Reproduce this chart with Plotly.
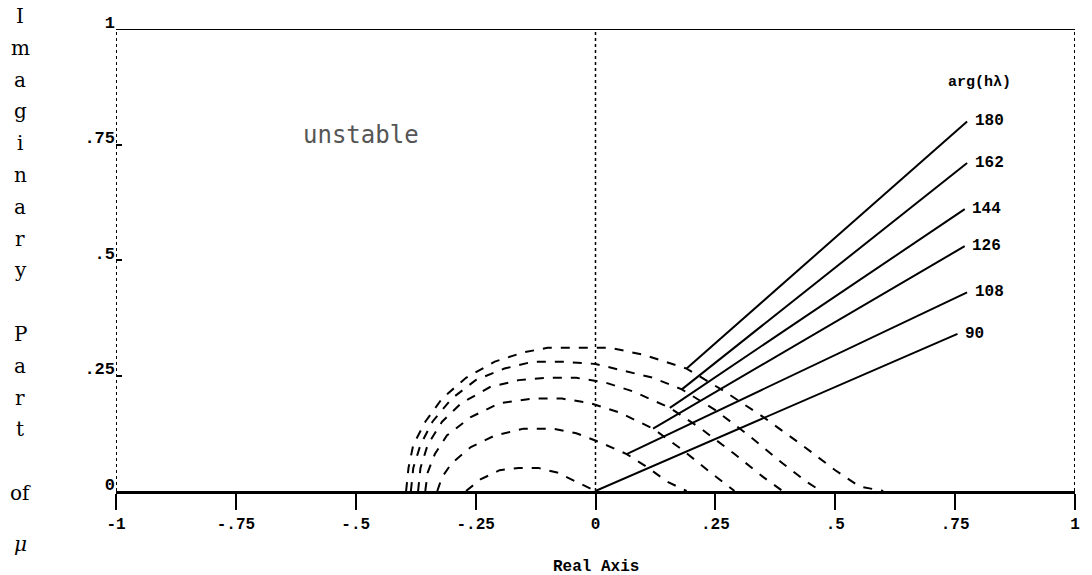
import plotly.graph_objects as go

# ---- data ----
args = [90, 108, 126, 144, 162, 180]

curve_x_90 = [-0.27, -0.24, -0.20, -0.16, -0.12, -0.08, -0.04, 0.0]
curve_y_90 = [0.0, 0.025, 0.045, 0.05, 0.05, 0.04, 0.02, 0.0]

curve_x_108 = [-0.33, -0.32, -0.30, -0.26, -0.21, -0.15, -0.09, -0.04, 0.01, 0.065, 0.11, 0.15, 0.19]
curve_y_108 = [0.0, 0.03, 0.06, 0.095, 0.12, 0.135, 0.135, 0.125, 0.105, 0.08, 0.05, 0.02, 0.0]

curve_x_126 = [-0.355, -0.35, -0.335, -0.31, -0.26, -0.20, -0.13, -0.07, -0.01, 0.05, 0.12, 0.18, 0.24, 0.29]
curve_y_126 = [0.0, 0.04, 0.08, 0.12, 0.16, 0.19, 0.20, 0.20, 0.19, 0.17, 0.135, 0.09, 0.04, 0.0]

curve_x_144 = [-0.37, -0.365, -0.35, -0.32, -0.28, -0.22, -0.16, -0.10, -0.04, 0.02, 0.08, 0.155, 0.22, 0.29, 0.35, 0.39]
curve_y_144 = [0.0, 0.05, 0.10, 0.15, 0.19, 0.225, 0.24, 0.245, 0.245, 0.235, 0.215, 0.18, 0.135, 0.08, 0.03, 0.0]

curve_x_162 = [-0.385, -0.38, -0.365, -0.34, -0.30, -0.25, -0.19, -0.13, -0.07, 0.0, 0.06, 0.12, 0.18, 0.25, 0.32, 0.39, 0.44, 0.47]
curve_y_162 = [0.0, 0.05, 0.10, 0.15, 0.20, 0.24, 0.265, 0.28, 0.28, 0.275, 0.26, 0.245, 0.22, 0.175, 0.12, 0.06, 0.02, 0.0]

curve_x_180 = [-0.395, -0.39, -0.38, -0.355, -0.32, -0.27, -0.21, -0.15, -0.10, -0.03, 0.03, 0.10, 0.19, 0.27, 0.35, 0.43, 0.50, 0.55, 0.60]
curve_y_180 = [0.0, 0.05, 0.10, 0.15, 0.20, 0.245, 0.28, 0.30, 0.31, 0.31, 0.31, 0.295, 0.265, 0.215, 0.16, 0.10, 0.045, 0.01, 0.0]

curves_x = [curve_x_90, curve_x_108, curve_x_126, curve_x_144, curve_x_162, curve_x_180]
curves_y = [curve_y_90, curve_y_108, curve_y_126, curve_y_144, curve_y_162, curve_y_180]

line_start_x = [0.0, 0.065, 0.12, 0.155, 0.18, 0.19]
line_start_y = [0.0, 0.08, 0.135, 0.18, 0.22, 0.265]
line_end_x = [0.755, 0.775, 0.77, 0.77, 0.775, 0.775]
line_end_y = [0.34, 0.43, 0.53, 0.61, 0.71, 0.80]

x_tick_vals = [-1, -0.75, -0.5, -0.25, 0, 0.25, 0.5, 0.75, 1]
x_tick_text = ["-1", "-.75", "-.5", "-.25", "0", ".25", ".5", ".75", "1"]
y_tick_vals = [0, 0.25, 0.5, 0.75, 1]
y_tick_text = ["0", ".25", ".5", ".75", "1"]

y_title_chars = ["I", "m", "a", "g", "i", "n", "a", "r", "y", "P", "a", "r", "t", "of", "<i>\u03bc</i>"]
y_title_rows = [1, 2, 3, 4, 5, 6, 7, 8, 9, 11, 12, 13, 14, 16, 17.6]

# ---- figure ----
fig = go.Figure()

for cx, cy in zip(curves_x, curves_y):
    fig.add_trace(go.Scatter(x=cx, y=cy, mode="lines",
                             line=dict(color="black", width=2, dash="dash"),
                             hoverinfo="skip", showlegend=False))

for sx, sy, ex, ey in zip(line_start_x, line_start_y, line_end_x, line_end_y):
    fig.add_trace(go.Scatter(x=[sx, ex], y=[sy, ey], mode="lines",
                             line=dict(color="black", width=2),
                             hoverinfo="skip", showlegend=False))

label_font = dict(family="Liberation Mono", size=16, color="black")
annotations = []
for a, ex, ey in zip(args, line_end_x, line_end_y):
    annotations.append(dict(x=ex + 0.012, y=ey, xref="x", yref="y", text="<b>%d</b>" % a,
                            showarrow=False, xanchor="left", yanchor="middle", font=label_font))
annotations.append(dict(x=0.8, y=0.885, xref="x", yref="y", text="<b>arg(h\u03bb)</b>",
                        showarrow=False, xanchor="center", yanchor="middle",
                        font=dict(family="Liberation Mono", size=15, color="black")))
annotations.append(dict(x=-0.49, y=0.77, xref="x", yref="y", text="unstable",
                        showarrow=False, xanchor="center", yanchor="middle",
                        font=dict(family="DejaVu Sans Mono", size=24, color="#555555")))

# vertical y-axis title, one character per row
plot_top_px = 29
plot_h_px = 462
for ch, row in zip(y_title_chars, y_title_rows):
    ypx = 16 + (row - 1) * 31.8
    annotations.append(dict(x=-0.1, y=(plot_top_px + plot_h_px - ypx) / plot_h_px,
                            xref="paper", yref="paper", text=ch, showarrow=False,
                            xanchor="center", yanchor="middle",
                            font=dict(family="DejaVu Serif", size=20, color="black")))

annotations.append(dict(x=0.5, y=-0.165, xref="paper", yref="paper", text="<b>Real Axis</b>",
                        showarrow=False, xanchor="center", yanchor="middle",
                        font=dict(family="Liberation Mono", size=16, color="black")))

shapes = [
    dict(type="line", xref="x", yref="y", x0=-1, x1=1, y0=1, y1=1,
         line=dict(color="black", width=2)),
    dict(type="line", xref="x", yref="y", x0=-1, x1=-1, y0=0, y1=1,
         line=dict(color="black", width=2, dash="dot")),
    dict(type="line", xref="x", yref="y", x0=1, x1=1, y0=0, y1=1,
         line=dict(color="black", width=2, dash="dot")),
    dict(type="line", xref="x", yref="y", x0=0, x1=0, y0=0, y1=1,
         line=dict(color="black", width=1.5, dash="dot")),
]

fig.update_layout(
    width=1092, height=575,
    margin=dict(l=116, r=15, t=29, b=84),
    paper_bgcolor="white", plot_bgcolor="white",
    showlegend=False,
    annotations=annotations,
    shapes=shapes,
    xaxis=dict(range=[-1, 1], tickvals=x_tick_vals,
               ticktext=["<b>%s</b>" % t for t in x_tick_text],
               ticks="outside", ticklen=16, tickwidth=1.5, tickcolor="black",
               showline=True, linecolor="black", linewidth=2.5,
               showgrid=False, zeroline=False,
               tickfont=dict(family="Liberation Mono", size=16, color="black")),
    yaxis=dict(range=[0, 1], tickvals=y_tick_vals,
               ticktext=["<b>%s</b>" % t for t in y_tick_text],
               ticks="inside", ticklen=6, tickwidth=1.5, tickcolor="black",
               showline=False, showgrid=False, zeroline=False,
               ticklabelshift=-7,
               tickfont=dict(family="Liberation Mono", size=17, color="black")),
)

fig.write_html("out.html")
